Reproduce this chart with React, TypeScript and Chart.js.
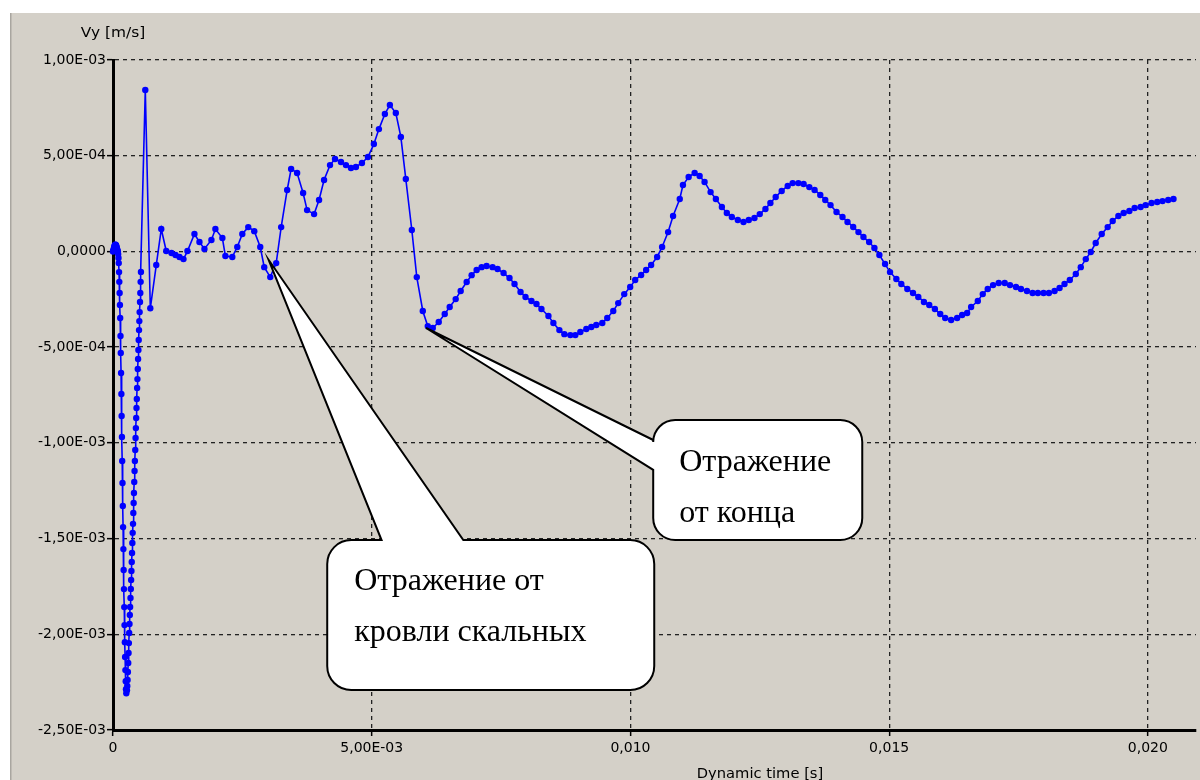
import React, { useEffect, useRef } from 'react';
import { Chart, registerables } from 'chart.js';

Chart.register(...registerables);

// ---- Data (time in ms, Vy in 1e-4 m/s) ----
// Early, finely sampled part: small bump, fast fall to the minimum, and the rise back
const earlyTimeMs = [
  0, 0.006, 0.012, 0.019, 0.025, 0.031, 0.037, 0.044, 0.05, 0.056, 0.062, 0.069, 0.075, 0.081, 0.087, 0.094,
  0.1, 0.106, 0.111, 0.117, 0.122, 0.128, 0.134, 0.139, 0.145, 0.15, 0.156, 0.162, 0.167, 0.173, 0.178,
  0.184, 0.19, 0.195, 0.201, 0.206, 0.212, 0.218, 0.223, 0.229, 0.234, 0.24, 0.246, 0.251, 0.257,
  0.27, 0.276, 0.282, 0.288, 0.295, 0.301, 0.307, 0.313, 0.319, 0.325, 0.331, 0.338, 0.344, 0.35, 0.356,
  0.362, 0.368, 0.374, 0.38, 0.387, 0.393, 0.399, 0.405, 0.411, 0.417, 0.423, 0.43, 0.436, 0.442, 0.448,
  0.454, 0.46, 0.466, 0.472, 0.479, 0.485, 0.491, 0.497, 0.503, 0.509, 0.515, 0.522, 0.528, 0.534, 0.54,
];
const earlyVyE4 = [
  0, 0.04, 0.1, 0.17, 0.24, 0.3, 0.33, 0.35, 0.35, 0.33, 0.3, 0.24, 0.17, 0.1, 0.04, 0,
  -0.14, -0.34, -0.61, -1.08, -1.59, -2.17, -2.8, -3.48, -4.42, -5.3, -6.35, -7.45, -8.6, -9.69, -10.95,
  -12.1, -13.3, -14.4, -15.55, -16.64, -17.64, -18.58, -19.52, -20.41, -21.19, -21.87, -22.45, -22.87, -23.08,
  -22.92, -22.7, -22.39, -21.97, -21.5, -20.98, -20.46, -19.93, -19.46, -18.99, -18.57, -18.1, -17.63, -17.16, -16.69,
  -16.22, -15.75, -15.23, -14.7, -14.23, -13.66, -13.14, -12.62, -12.04, -11.47, -10.95, -10.37, -9.75, -9.23, -8.7,
  -8.18, -7.71, -7.13, -6.67, -6.14, -5.62, -5.15, -4.63, -4.11, -3.64, -3.17, -2.64, -2.17, -1.59, -1.07,
];
// Main part, ~0.1 ms sampling
const mainTimeMs = [
  0.624, 0.721, 0.836, 0.933, 1.029, 1.131, 1.208, 1.285, 1.362, 1.439, 1.574, 1.671, 1.767, 1.902, 1.979,
  2.114, 2.172, 2.306, 2.402, 2.499, 2.614, 2.73, 2.846, 2.923, 3.039, 3.154, 3.25, 3.366, 3.443, 3.558,
  3.674, 3.751, 3.886, 3.982, 4.079, 4.194, 4.291, 4.406, 4.502, 4.599, 4.695, 4.811, 4.927, 5.042, 5.139,
  5.254, 5.351, 5.466, 5.563, 5.659, 5.775, 5.871, 5.987, 6.083, 6.18, 6.295, 6.411, 6.507, 6.623, 6.719,
  6.835, 6.931, 7.028, 7.124, 7.22, 7.336, 7.432, 7.548, 7.663, 7.76, 7.876, 7.972, 8.087, 8.184, 8.28,
  8.415, 8.511, 8.627, 8.723, 8.839, 8.935, 9.032, 9.147, 9.244, 9.34, 9.456, 9.552, 9.668, 9.764, 9.88,
  9.995, 10.092, 10.207, 10.303, 10.4, 10.516, 10.612, 10.728, 10.824, 10.953, 11.015, 11.125, 11.241, 11.337, 11.433,
  11.549, 11.651, 11.767, 11.863, 11.959, 12.075, 12.185, 12.287, 12.397, 12.499, 12.609, 12.705, 12.807, 12.923, 13.039,
  13.135, 13.245, 13.347, 13.457, 13.559, 13.669, 13.765, 13.867, 13.983, 14.098, 14.195, 14.305, 14.407, 14.503, 14.613,
  14.715, 14.811, 14.921, 15.017, 15.139, 15.235, 15.351, 15.461, 15.563, 15.672, 15.775, 15.884, 15.987, 16.083, 16.198,
  16.314, 16.41, 16.507, 16.584, 16.713, 16.809, 16.905, 17.008, 17.117, 17.233, 17.335, 17.451, 17.547, 17.663, 17.772,
  17.875, 17.984, 18.087, 18.197, 18.293, 18.389, 18.491, 18.607, 18.703, 18.8, 18.896, 18.992, 19.108, 19.223, 19.32,
  19.43, 19.532, 19.642, 19.744, 19.86, 19.956, 20.071, 20.181, 20.283, 20.393, 20.495,
];
const mainVyE4 = [
  8.43, -2.97, -0.71, 1.17, 0.02, -0.08, -0.19, -0.29, -0.4, 0.02, 0.91, 0.49, 0.13, 0.6, 1.17,
  0.7, -0.24, -0.29, 0.23, 0.91, 1.27, 1.06, 0.23, -0.82, -1.34, -0.61, 1.27, 3.21, 4.31, 4.1,
  3.05, 2.16, 1.95, 2.69, 3.73, 4.51, 4.83, 4.67, 4.51, 4.36, 4.41, 4.62, 4.93, 5.61, 6.39,
  7.18, 7.65, 7.23, 5.98, 3.78, 1.12, -1.34, -3.11, -3.9, -4.0, -3.69, -3.27, -2.9, -2.49, -2.07,
  -1.6, -1.24, -0.97, -0.82, -0.76, -0.82, -0.92, -1.13, -1.39, -1.7, -2.12, -2.38, -2.59, -2.75, -3.01,
  -3.37, -3.74, -4.11, -4.32, -4.37, -4.37, -4.21, -4.05, -3.95, -3.84, -3.74, -3.48, -3.11, -2.7, -2.23,
  -1.86, -1.49, -1.23, -0.97, -0.71, -0.29, 0.23, 1.01, 1.85, 2.74, 3.47, 3.89, 4.1, 3.94, 3.63,
  3.1, 2.74, 2.32, 2.01, 1.8, 1.64, 1.54, 1.64, 1.75, 1.95, 2.22, 2.53, 2.84, 3.16, 3.42,
  3.57, 3.57, 3.52, 3.36, 3.21, 2.95, 2.69, 2.42, 2.06, 1.8, 1.54, 1.28, 1.01, 0.75, 0.49,
  0.18, -0.19, -0.66, -1.08, -1.44, -1.7, -1.96, -2.17, -2.38, -2.64, -2.8, -3.01, -3.27, -3.48, -3.58,
  -3.48, -3.32, -3.22, -2.9, -2.59, -2.23, -1.96, -1.76, -1.65, -1.65, -1.76, -1.86, -1.96, -2.07, -2.17,
  -2.17, -2.17, -2.17, -2.07, -1.91, -1.7, -1.49, -1.18, -0.82, -0.4, -0.03, 0.44, 0.91, 1.27, 1.59,
  1.85, 2.01, 2.11, 2.27, 2.32, 2.42, 2.53, 2.58, 2.63, 2.69, 2.74,
];

const xTickValues = [0, 0.005, 0.01, 0.015, 0.02];
const xTickLabels = ['0', '5,00E-03', '0,010', '0,015', '0,020'];
const yTickValues = [0.001, 0.0005, 0, -0.0005, -0.001, -0.0015, -0.002, -0.0025];
const yTickLabels = ['1,00E-03', '5,00E-04', '0,0000', '-5,00E-04', '-1,00E-03', '-1,50E-03', '-2,00E-03', '-2,50E-03'];

const xAxisTitle = 'Dynamic time [s]';
const yAxisTitle = 'Vy [m/s]';
const calloutEndLines = ['Отражение', 'от конца'];
const calloutRockLines = ['Отражение от', 'кровли скальных'];

const AXIS_FONT = '"DejaVu Sans", sans-serif';
const CALLOUT_FONT = '32px "Liberation Serif", "Times New Roman", serif';

function labelFor(values: number[], labels: string[], v: number) {
  const i = values.findIndex((t) => Math.abs(t - v) < 1e-9);
  return i >= 0 ? labels[i] : '';
}

// Callout geometry in data units (time ms / Vy 1e-4)
const calloutSpecs = [
  {
    lines: calloutEndLines,
    box: { t0: 10.44, t1: 14.48, v0: -8.81, v1: -15.08 },
    side: 'left',
    base: [-9.85, -11.41],
    tip: { t: 6.05, v: -4.0 },
    textDx: 26,
    textDy: [51, 102],
    radius: 22,
  },
  {
    lines: calloutRockLines,
    box: { t0: 4.14, t1: 10.46, v0: -15.08, v1: -22.91 },
    side: 'top',
    base: [5.19, 6.77],
    tip: { t: 3.01, v: -0.45 },
    textDx: 27,
    textDy: [50, 101],
    radius: 24,
  },
];

const panelPlugin = {
  id: 'panelBg',
  beforeDraw(chart: any) {
    const { ctx, width, height } = chart;
    ctx.save();
    ctx.fillStyle = '#ffffff';
    ctx.fillRect(0, 0, width, height);
    ctx.fillStyle = '#d4d0c8';
    ctx.fillRect(10, 13, width - 10, height - 13);
    ctx.fillStyle = '#a9a6a0';
    ctx.fillRect(10, 13, 1.5, height - 13);
    ctx.restore();
  },
};

function stretchedText(ctx: any, text: string, x: number, y: number, sx: number) {
  ctx.save();
  ctx.translate(x, y);
  ctx.scale(sx, 1);
  ctx.fillText(text, 0, 0);
  ctx.restore();
}

const titlesPlugin = {
  id: 'axisTitles',
  afterDraw(chart: any) {
    const { ctx, chartArea } = chart;
    ctx.save();
    ctx.fillStyle = '#000';
    ctx.font = '14px ' + AXIS_FONT;
    ctx.textAlign = 'center';
    ctx.textBaseline = 'middle';
    stretchedText(ctx, yAxisTitle, chartArea.left, chartArea.top - 27, 1.1);
    stretchedText(ctx, xAxisTitle, chartArea.left + 647, chartArea.bottom + 44, 1.05);
    ctx.restore();
  },
};

const calloutPlugin = {
  id: 'callouts',
  afterDraw(chart: any) {
    const { ctx } = chart;
    const xs = chart.scales.x;
    const ys = chart.scales.y;
    const px = (tMs: number) => xs.getPixelForValue(tMs / 1000);
    const py = (v: number) => ys.getPixelForValue(v * 1e-4);
    calloutSpecs.forEach((c) => {
      const left = px(c.box.t0);
      const right = px(c.box.t1);
      const top = py(c.box.v0);
      const bottom = py(c.box.v1);
      const r = c.radius;
      const tx = px(c.tip.t);
      const ty = py(c.tip.v);
      ctx.save();
      ctx.beginPath();
      ctx.moveTo(left + r, top);
      if (c.side === 'top') {
        ctx.lineTo(px(c.base[0]), top);
        ctx.lineTo(tx, ty);
        ctx.lineTo(px(c.base[1]), top);
      }
      ctx.lineTo(right - r, top);
      ctx.arcTo(right, top, right, top + r, r);
      ctx.lineTo(right, bottom - r);
      ctx.arcTo(right, bottom, right - r, bottom, r);
      ctx.lineTo(left + r, bottom);
      ctx.arcTo(left, bottom, left, bottom - r, r);
      if (c.side === 'left') {
        ctx.lineTo(left, py(c.base[1]));
        ctx.lineTo(tx, ty);
        ctx.lineTo(left, py(c.base[0]));
      }
      ctx.lineTo(left, top + r);
      ctx.arcTo(left, top, left + r, top, r);
      ctx.closePath();
      ctx.fillStyle = '#ffffff';
      ctx.fill();
      ctx.lineWidth = 2;
      ctx.strokeStyle = '#000';
      ctx.lineJoin = 'miter';
      ctx.stroke();
      ctx.fillStyle = '#000';
      ctx.font = CALLOUT_FONT;
      ctx.textAlign = 'left';
      ctx.textBaseline = 'alphabetic';
      c.lines.forEach((line, i) => {
        ctx.fillText(line, left + c.textDx, top + c.textDy[i]);
      });
      ctx.restore();
    });
  },
};

export default function App() {
  const canvasRef = useRef<HTMLCanvasElement | null>(null);

  useEffect(() => {
    document.body.style.margin = '0';
    const canvas = canvasRef.current;
    if (!canvas) return;

    const points = [
      ...earlyTimeMs.map((t, i) => ({ x: t / 1000, y: earlyVyE4[i] * 1e-4 })),
      ...mainTimeMs.map((t, i) => ({ x: t / 1000, y: mainVyE4[i] * 1e-4 })),
    ];

    const chart = new Chart(canvas, {
      type: 'line',
      data: {
        datasets: [
          {
            data: points,
            borderColor: '#0000ff',
            backgroundColor: '#0000ff',
            borderWidth: 1.6,
            pointRadius: 3.2,
            pointBackgroundColor: '#0000ff',
            pointBorderWidth: 0,
            tension: 0,
            fill: false,
            clip: 4,
          },
        ],
      },
      options: {
        animation: false,
        responsive: false,
        devicePixelRatio: 1,
        layout: { padding: { left: 0, top: 60, right: 0, bottom: 0 } },
        plugins: {
          legend: { display: false },
          tooltip: { enabled: false },
        },
        scales: {
          x: {
            type: 'linear',
            min: 0,
            max: 0.02093,
            afterBuildTicks: (scale: any) => {
              scale.ticks = xTickValues.map((v) => ({ value: v }));
            },
            afterFit: (scale: any) => {
              scale.height = 50;
            },
            ticks: {
              color: '#000',
              font: { family: AXIS_FONT, size: 14 },
              padding: 4,
              maxRotation: 0,
              autoSkip: false,
              callback: (v: any) => labelFor(xTickValues, xTickLabels, Number(v)),
            },
            grid: {
              color: '#222',
              lineWidth: 1.3,
              tickLength: 6,
              tickColor: '#000',
              tickWidth: 1.5,
            },
            border: { display: true, color: '#000', width: 3, dash: [4, 4] },
          },
          y: {
            type: 'linear',
            min: -0.0025,
            max: 0.001,
            afterBuildTicks: (scale: any) => {
              scale.ticks = yTickValues.map((v) => ({ value: v }));
            },
            afterFit: (scale: any) => {
              scale.width = 113;
            },
            ticks: {
              color: '#000',
              font: { family: AXIS_FONT, size: 14 },
              padding: 1,
              autoSkip: false,
              callback: (v: any) => labelFor(yTickValues, yTickLabels, Number(v)),
            },
            grid: {
              color: '#222',
              lineWidth: 1.3,
              tickLength: 6,
              tickColor: '#000',
              tickWidth: 1.5,
            },
            border: { display: true, color: '#000', width: 3, dash: [4, 4] },
          },
        },
      },
      plugins: [panelPlugin, titlesPlugin, calloutPlugin],
    });

    return () => {
      chart.destroy();
    };
  }, []);

  return (
    <div style={{ position: 'absolute', left: 0, top: 0, width: 1200, height: 780, background: '#fff' }}>
      <canvas ref={canvasRef} width={1200} height={780} style={{ display: 'block', width: 1200, height: 780 }} />
    </div>
  );
}
